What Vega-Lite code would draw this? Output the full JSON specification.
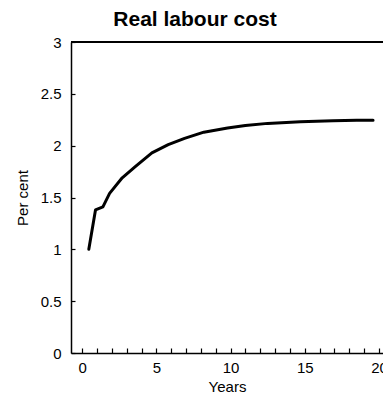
{
  "$schema": "https://vega.github.io/schema/vega-lite/v6.json",
  "autosize": {"type": "none"},
  "padding": {"left": 71, "top": 42, "right": 0, "bottom": 49},
  "width": 312,
  "height": 311,
  "background": "white",
  "title": {
    "text": "Real labour cost",
    "font": "Liberation Sans",
    "fontSize": 21,
    "fontWeight": "bold",
    "color": "black",
    "anchor": "middle",
    "dx": -32,
    "offset": 5
  },
  "data": {
    "values": [
      {"year": 0.45, "value": 1.0},
      {"year": 0.9, "value": 1.38},
      {"year": 1.4, "value": 1.41},
      {"year": 1.85, "value": 1.54},
      {"year": 2.7, "value": 1.69},
      {"year": 3.6, "value": 1.8},
      {"year": 4.7, "value": 1.93},
      {"year": 5.8, "value": 2.01},
      {"year": 6.9, "value": 2.07},
      {"year": 8.2, "value": 2.13},
      {"year": 9.8, "value": 2.17},
      {"year": 11.0, "value": 2.195},
      {"year": 12.5, "value": 2.215},
      {"year": 14.7, "value": 2.23},
      {"year": 16.9, "value": 2.24},
      {"year": 18.5, "value": 2.245},
      {"year": 19.6, "value": 2.245}
    ]
  },
  "layer": [
    {
      "mark": {"type": "rule", "color": "black", "strokeWidth": 1.5},
      "encoding": {"y": {"datum": 3, "type": "quantitative"}}
    },
    {
      "mark": {"type": "line", "color": "black", "strokeWidth": 3, "strokeJoin": "round", "strokeCap": "round"},
      "encoding": {
        "x": {
          "field": "year",
          "type": "quantitative",
          "scale": {"domain": [-0.75, 20.27], "nice": false, "zero": false},
          "axis": {
            "title": "Years",
            "values": [0,1,2,3,4,5,6,7,8,9,10,11,12,13,14,15,16,17,18,19,20],
            "labelExpr": "datum.value % 5 === 0 ? datum.label : ''",
            "grid": false,
            "tickSize": -5,
            "labelPadding": 12,
            "titlePadding": 4
          }
        },
        "y": {
          "field": "value",
          "type": "quantitative",
          "scale": {"domain": [0, 3], "nice": false},
          "axis": {
            "title": "Per cent",
            "values": [0,0.25,0.5,0.75,1,1.25,1.5,1.75,2,2.25,2.5,2.75,3],
            "labelExpr": "datum.value * 2 % 1 === 0 ? format(datum.value, '~g') : ''",
            "grid": false,
            "tickSize": -4,
            "labelPadding": 14,
            "titlePadding": 10
          }
        }
      }
    }
  ],
  "config": {
    "view": {"stroke": null},
    "axis": {
      "domainColor": "black",
      "domainWidth": 1.5,
      "tickColor": "black",
      "tickWidth": 1.2,
      "labelFont": "Liberation Sans",
      "labelFontSize": 15,
      "labelColor": "black",
      "titleFont": "Liberation Sans",
      "titleFontSize": 15,
      "titleFontWeight": "normal",
      "titleColor": "black"
    }
  }
}
